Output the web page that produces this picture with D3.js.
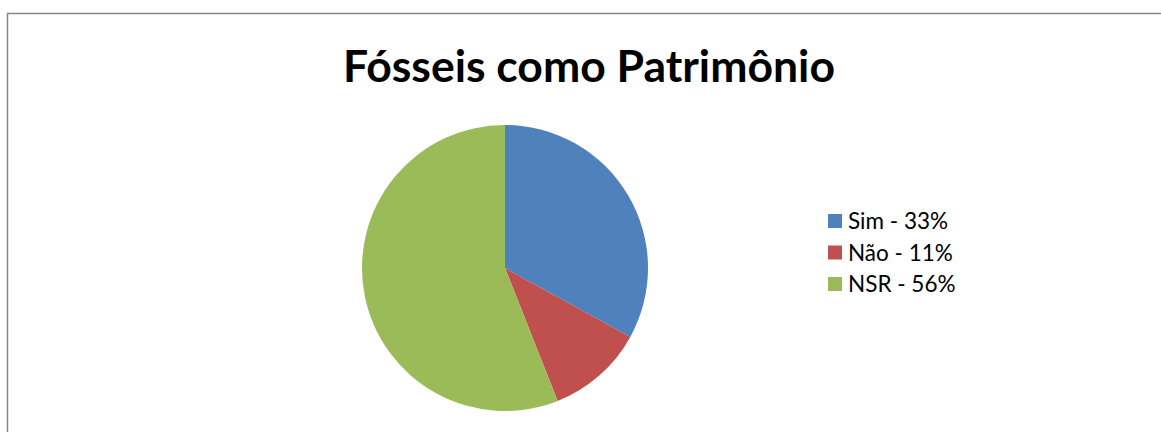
<!DOCTYPE html>
<html>
<head>
<meta charset="utf-8">
<script src="https://cdn.jsdelivr.net/npm/d3@7"></script>
<style>
  body { margin: 0; background: #fff; }
  svg { display: block; }
</style>
</head>
<body>
<svg id="chart"></svg>
<script>
// chart data
const categories = ["Sim", "Não", "NSR"];
const values = [33, 11, 56];
const labels = ["Sim - 33%", "Não - 11%", "NSR - 56%"];
const colors = ["#4F81BD", "#C0504D", "#9BBB59"];
const title = "Fósseis como Patrimônio";

const width = 1161, height = 432;
const font = "Lato, 'Open Sans', sans-serif";

const svg = d3.select("#chart")
    .attr("width", width)
    .attr("height", height);

// chart area border (runs off the right and bottom)
svg.append("rect")
    .attr("x", 7.5)
    .attr("y", 13.5)
    .attr("width", width + 20)
    .attr("height", height + 20)
    .attr("fill", "none")
    .attr("stroke", "#868686")
    .attr("stroke-width", 1.5);

// title
svg.append("text")
    .attr("x", 589)
    .attr("y", 82)
    .attr("text-anchor", "middle")
    .attr("font-family", font)
    .attr("font-weight", 700)
    .attr("font-size", 44.5)
    .attr("fill", "#000")
    .text(title);

// pie
const cx = 505, cy = 268, r = 143;
const colorScale = d3.scaleOrdinal().domain(categories).range(colors);

const pie = d3.pie()
    .sort(null)
    .value(d => d.value);

const arc = d3.arc()
    .innerRadius(0)
    .outerRadius(r);

const data = categories.map((c, i) => ({ cat: c, value: values[i] }));

const pieG = svg.append("g")
    .attr("transform", `translate(${cx},${cy})`);

pieG.selectAll("path")
    .data(pie(data))
    .join("path")
    .attr("d", arc)
    .attr("fill", d => colorScale(d.data.cat));

// legend
const legendY = d3.scalePoint()
    .domain(categories)
    .range([221, 284]);

const legend = svg.append("g")
    .selectAll("g")
    .data(categories)
    .join("g")
    .attr("transform", d => `translate(828,${legendY(d)})`);

legend.append("rect")
    .attr("x", 0)
    .attr("y", -7)
    .attr("width", 14)
    .attr("height", 14)
    .attr("fill", d => colorScale(d));

legend.append("text")
    .attr("x", 20)
    .attr("y", 8)
    .attr("font-family", font)
    .attr("font-size", 22.5)
    .attr("fill", "#000")
    .text((d, i) => labels[i]);
</script>
</body>
</html>
